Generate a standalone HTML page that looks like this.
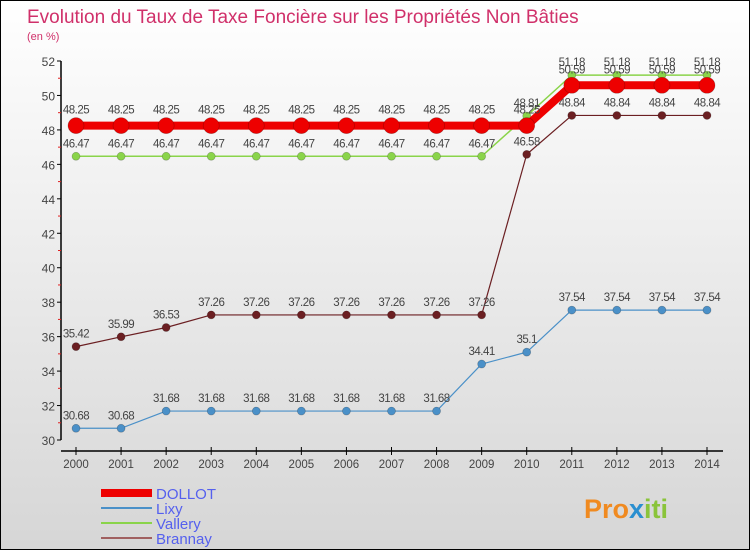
<!DOCTYPE html>
<html><head><meta charset="utf-8"><style>
body{margin:0;}
#wrap{position:relative;width:750px;height:550px;box-sizing:border-box;border:1px solid #000;background:linear-gradient(#ffffff,#d6d6d6);overflow:hidden;font-family:"Liberation Sans",sans-serif;}
</style></head><body>
<div id="wrap">
<svg id="chart" width="750" height="550" style="position:absolute;left:0;top:0">
<text x="26" y="22" font-size="19" fill="#d0306a">Evolution du Taux de Taxe Foncière sur les Propriétés Non Bâties</text>
<text x="26" y="39" font-size="11" fill="#d0306a">(en %)</text>
<text x="583" y="517" font-size="27" font-weight="bold" fill="#f08a20">Pro<tspan fill="#2a8fd0">x</tspan><tspan fill="#8ac43a">iti</tspan></text>
</svg>
</div>
<script>
const years=[2000,2001,2002,2003,2004,2005,2006,2007,2008,2009,2010,2011,2012,2013,2014];
const dollot=[48.25,48.25,48.25,48.25,48.25,48.25,48.25,48.25,48.25,48.25,48.25,50.59,50.59,50.59,50.59];
const lixy=[30.68,30.68,31.68,31.68,31.68,31.68,31.68,31.68,31.68,34.41,35.1,37.54,37.54,37.54,37.54];
const vallery=[46.47,46.47,46.47,46.47,46.47,46.47,46.47,46.47,46.47,46.47,48.81,51.18,51.18,51.18,51.18];
const brannay=[35.42,35.99,36.53,37.26,37.26,37.26,37.26,37.26,37.26,37.26,46.58,48.84,48.84,48.84,48.84];
const yTicks=[30,32,34,36,38,40,42,44,46,48,50,52];
const NS="http://www.w3.org/2000/svg";
const svg=document.getElementById('chart');
const X=i=>75+i*(706-75)/14;
const Y=v=>439-(v-30)*(439-60)/22;
function mk(t,a,p){const e=document.createElementNS(NS,t);for(const k in a)e.setAttribute(k,a[k]);(p||svg).appendChild(e);return e;}
// axes
let ax=mk('line',{x1:60,y1:60,x2:60,y2:439,stroke:'#000','stroke-width':1.5});


let xa=mk('line',{x1:60,y1:450,x2:722,y2:450,stroke:'#000','stroke-width':1.5});


yTicks.forEach(v=>{
  mk('line',{x1:56,y1:Y(v),x2:60,y2:Y(v),stroke:'#000'});
  if(v<52)mk('line',{x1:57,y1:Y(v+1),x2:60,y2:Y(v+1),stroke:'#e02020'});
  const t=mk('text',{x:54,y:Y(v)+5,'text-anchor':'end','font-size':12,fill:'#444'});
  t.textContent=v;
  
  
});
years.forEach((yr,i)=>{
  mk('line',{x1:X(i),y1:446,x2:X(i),y2:454,stroke:'#000'});
  const t=mk('text',{x:X(i),y:467,'text-anchor':'middle','font-size':11.5,fill:'#444'});
  t.textContent=yr;
  
  
});
function series(name,vals,color,w,r,labelDy){
  const g=mk('g',{});
  
  
  mk('polyline',{points:vals.map((v,i)=>X(i)+','+Y(v)).join(' '),fill:'none',stroke:color,'stroke-width':w,'stroke-linejoin':'round'},g);
  vals.forEach((v,i)=>{
    const c=mk('circle',{cx:X(i),cy:Y(v),r:r,fill:color,stroke:'rgba(0,0,0,0.25)','stroke-width':0.7},g);
    
    
    const t=mk('text',{x:X(i),y:Y(v)+labelDy,'text-anchor':'middle','font-size':11.5,fill:'#444','letter-spacing':'-0.5'},g);
    t.textContent=String(v);
    
    
  });
}
series('lixy',lixy,'#4a90c8',1.2,4,-9);
series('brannay',brannay,'#6b1f22',1.2,4,-9);
series('vallery',vallery,'#8ad44a',1.5,4,-9);
series('dollot',dollot,'#ee0000',8,8,-12);
// legend
const leg=[['DOLLOT','#ee0000',8,15],['Lixy','#4a90c8',2,15],['Vallery','#8ad44a',2,15],['Brannay','#a06060',2,15]];
const ly=[492,507,522,537];
leg.forEach((l,i)=>{
  const g=mk('g',{});
  
  
  mk('line',{x1:100,y1:ly[i],x2:151,y2:ly[i],stroke:l[1],'stroke-width':l[2]},g);
  const t=mk('text',{x:155,y:ly[i]+6,'font-size':l[3],fill:'#5560ee'},g);
  t.textContent=l[0];
});
</script>
</body></html>
